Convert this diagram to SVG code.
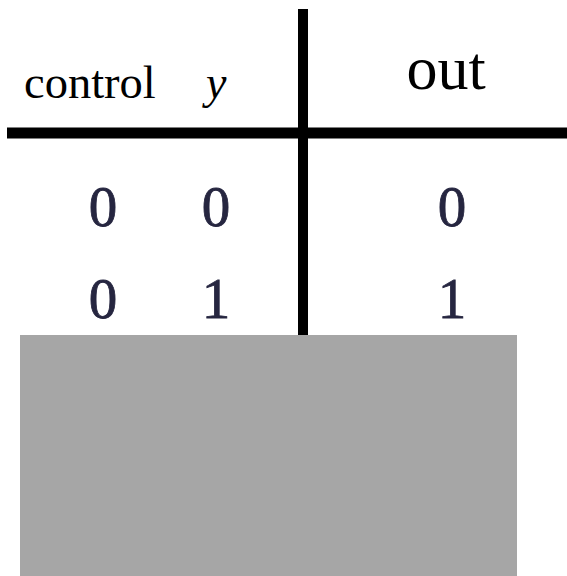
<svg xmlns="http://www.w3.org/2000/svg" width="567" height="576" viewBox="0 0 567 576">
<style>
.h{font-family:"Liberation Serif","Times New Roman",serif;fill:#000}
.d{font-family:"Liberation Serif","Times New Roman",serif;fill:#262640;stroke:#262640;stroke-width:0.8;font-size:57px;text-anchor:middle}
</style>
<rect width="567" height="576" fill="#fff"/>
<g id="connectors" stroke="#000">
<line x1="303" y1="9" x2="303" y2="336" stroke-width="10"/>
<line x1="7" y1="133" x2="567" y2="133" stroke-width="11"/>
</g>
<g id="header">
<text class="h" x="24" y="98" font-size="46.5">control</text>
<text class="h" x="206" y="98" font-size="46" font-style="italic">y</text>
<text class="h" x="446" y="89" font-size="62" text-anchor="middle">out</text>
</g>
<g id="row1">
<text class="d" x="103" y="226">0</text>
<text class="d" x="216" y="226">0</text>
<text class="d" x="452" y="226">0</text>
</g>
<g id="row2">
<text class="d" x="103" y="318">0</text>
<text class="d" x="216" y="318">1</text>
<text class="d" x="452" y="318">1</text>
</g>
<rect id="mask" x="20" y="335" width="497" height="241" fill="#a6a6a6"/>
</svg>
